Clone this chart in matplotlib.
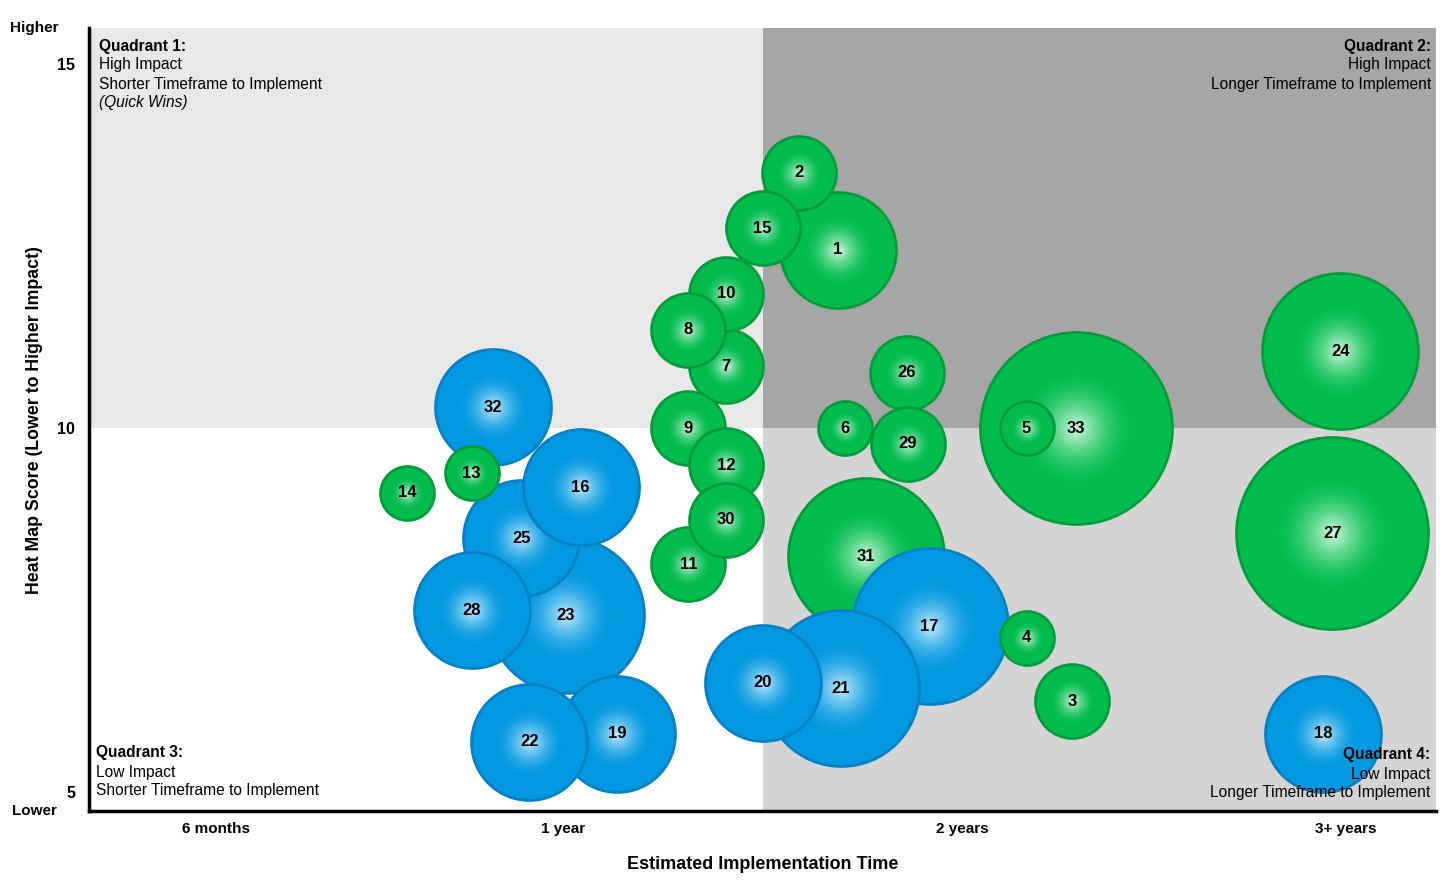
import numpy as np
import matplotlib.pyplot as plt
from matplotlib.colors import to_rgb

plt.rcParams['font.family'] = ['Liberation Sans', 'DejaVu Sans']

# --data--
# listed in drawing order (first = bottom)
ids   = [33, 5, 1, 2, 15, 7, 10, 8, 9, 11, 12, 30, 26, 29, 6, 24, 27,
         31, 17, 4, 3, 21, 20, 18, 23, 25, 16, 28, 19, 22, 32, 13, 14]
x_val = [7.33, 6.96, 5.56, 5.27, 5.00, 4.73, 4.73, 4.45, 4.45, 4.45, 4.73, 4.73, 6.07, 6.08, 5.61, 9.29, 9.23,
         5.77, 6.24, 6.96, 7.30, 5.58, 5.00, 9.16, 3.54, 3.21, 3.65, 2.84, 3.92, 3.27, 3.00, 2.84, 2.36]
y_val = [10.00, 10.00, 12.45, 13.51, 12.75, 10.85, 11.85, 11.35, 10.00, 8.13, 9.49, 8.74, 10.76, 9.79, 10.00, 11.06, 8.56,
         8.24, 7.28, 7.12, 6.25, 6.43, 6.50, 5.80, 7.43, 8.49, 9.19, 7.50, 5.80, 5.69, 10.29, 9.38, 9.11]
size_cat = [5, 1, 3, 2, 2, 2, 2, 2, 2, 2, 2, 2, 2, 2, 1, 4, 5,
            4, 4, 1, 2, 4, 3, 3, 4, 3, 3, 3, 3, 3, 3, 1, 1]
group = ['g', 'g', 'g', 'g', 'g', 'g', 'g', 'g', 'g', 'g', 'g', 'g', 'g', 'g', 'g', 'g', 'g',
         'g', 'b', 'g', 'g', 'b', 'b', 'b', 'b', 'b', 'b', 'b', 'b', 'b', 'b', 'g', 'g']

x_ticks = [0.94, 3.52, 6.48, 9.33]
x_tick_labels = ['6 months', '1 year', '2 years', '3+ years']
y_ticks = [5, 10, 15]

radius_px = {1: 28, 2: 38, 3: 59, 4: 79, 5: 97}
colors = {'g': ('#00BC4E', '#009C3C', '#DDFBE6'),
          'b': ('#0098E0', '#0580C2', '#D2F0FF')}

fig = plt.figure(figsize=(14.4, 8.84), dpi=100)
ax = fig.add_axes([89/1440, 1-811/884, (1436-89)/1440, (811-28)/884])
ax.set_xlim(0, 10)
ax.set_ylim(4.74, 15.5)

# quadrant backgrounds
ax.fill_between([0, 5], 10, 15.5, color='#E8E8E8', lw=0, zorder=0)
ax.fill_between([5, 10], 10, 15.5, color='#A6A6A6', lw=0, zorder=0)
ax.fill_between([5, 10], 4.74, 10, color='#D4D4D4', lw=0, zorder=0)


def blend(c1, c2, t):
    a, b = np.array(to_rgb(c1)), np.array(to_rgb(c2))
    return tuple(a*(1-t) + b*t)


for i, n in enumerate(ids):
    base, edge, light = colors[group[i]]
    r = radius_px[size_cat[i]] * 0.72  # points
    z = 2 + i
    ax.scatter(x_val[i], y_val[i], s=(2*r - 1.5)**2, color=base,
               edgecolors=edge, linewidths=2.0, zorder=z)
    # radial highlight
    for rf in np.linspace(0.62, 0.03, 22):
        t = (1 - rf/0.62)**1.8
        ax.scatter(x_val[i], y_val[i], s=(2*r*rf)**2, color=blend(base, light, t),
                   linewidths=0, zorder=z)
    ax.text(x_val[i], y_val[i], str(n), ha='center', va='center',
            fontsize=12, fontweight='bold', zorder=z)

for s in ['top', 'right']:
    ax.spines[s].set_visible(False)
for s in ['left', 'bottom']:
    ax.spines[s].set_linewidth(2.5)
    ax.spines[s].set_zorder(100)

ax.set_xticks(x_ticks)
ax.set_xticklabels(x_tick_labels, fontsize=11, fontweight='bold')
ax.set_yticks(y_ticks)
ax.set_yticklabels([str(v) for v in y_ticks], fontsize=11.5, fontweight='bold')
ax.tick_params(axis='y', length=0, pad=10)
ax.tick_params(axis='x', length=0, pad=8)

ax.set_xlabel('Estimated Implementation Time', fontsize=13, fontweight='bold', labelpad=14)
fig.text(35/1440, 1-420/884, 'Heat Map Score (Lower to Higher Impact)', rotation=90,
         ha='center', va='center', fontsize=12.8, fontweight='bold')
fig.text(34/1440, 1-28/884, 'Higher', ha='center', va='center', fontsize=11, fontweight='bold')
fig.text(34/1440, 1-811/884, 'Lower', ha='center', va='center', fontsize=11, fontweight='bold')


def quad(x, y0, lines, ha):
    for k, (txt, style) in enumerate(lines):
        fig.text(x/1440, 1-(y0 + 19*k)/884, txt, ha=ha, va='center', fontsize=11.2,
                 fontweight='bold' if style == 'b' else 'normal',
                 fontstyle='italic' if style == 'i' else 'normal', zorder=200)


quad(99, 46, [('Quadrant 1:', 'b'), ('High Impact', 'n'),
              ('Shorter Timeframe to Implement', 'n'), ('(Quick Wins)', 'i')], 'left')
quad(1431, 46, [('Quadrant 2:', 'b'), ('High Impact', 'n'),
                ('Longer Timeframe to Implement', 'n')], 'right')
quad(96, 753, [('Quadrant 3:', 'b'), ('Low Impact', 'n'),
               ('Shorter Timeframe to Implement', 'n')], 'left')
quad(1430, 755, [('Quadrant 4:', 'b'), ('Low Impact', 'n'),
                 ('Longer Timeframe to Implement', 'n')], 'right')

fig.savefig('out.png', dpi=100)
